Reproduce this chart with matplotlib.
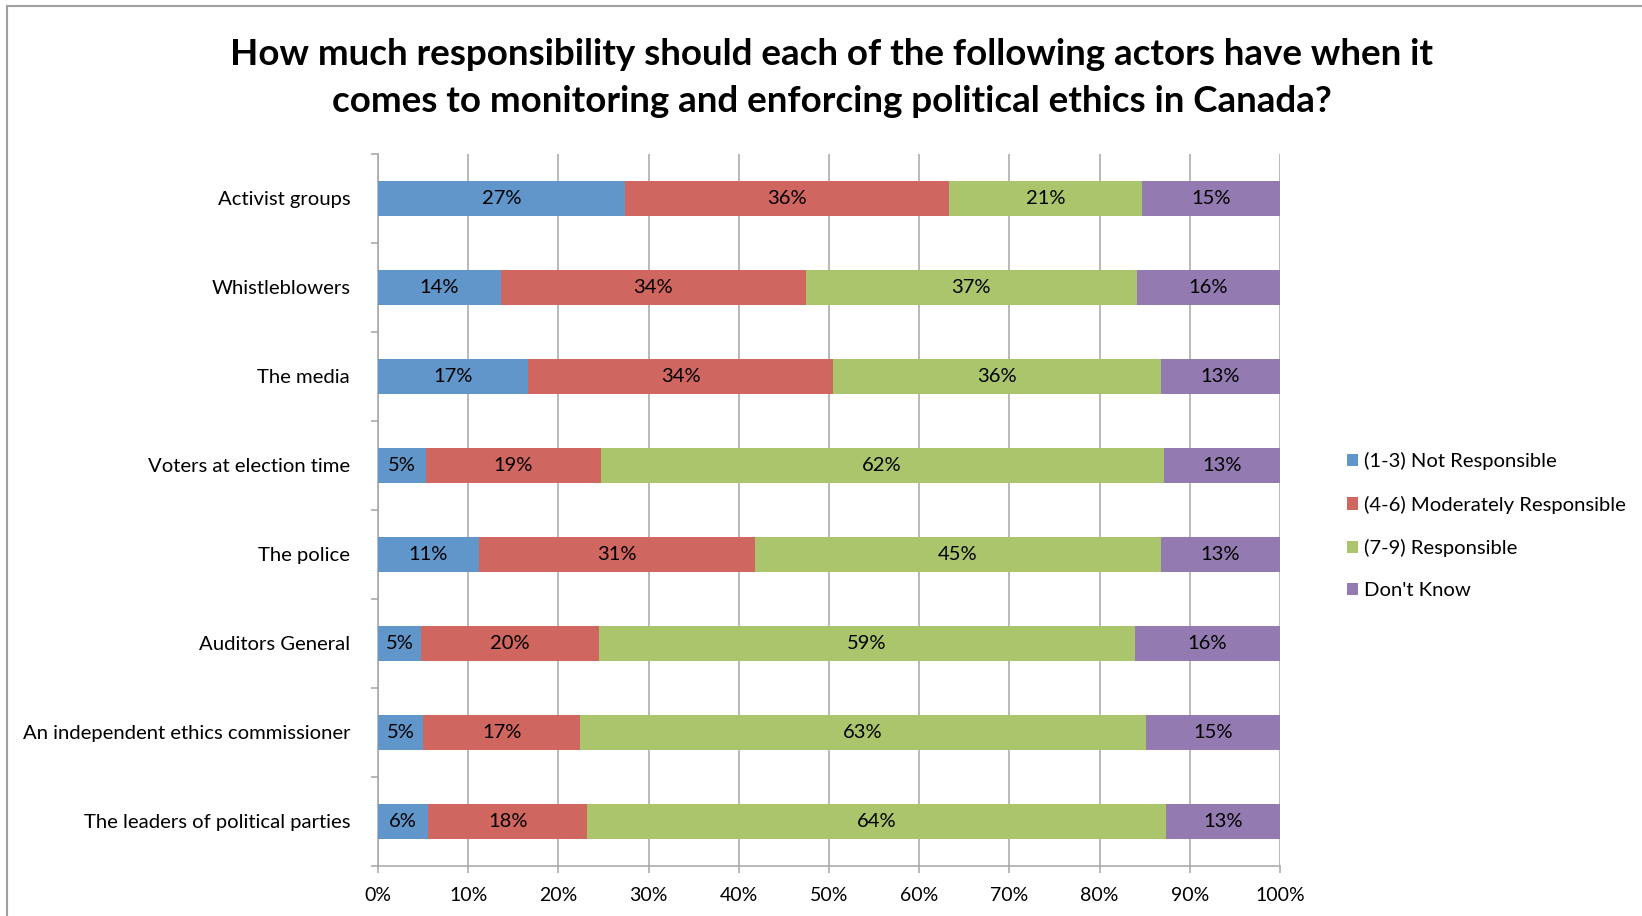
import matplotlib
matplotlib.use("Agg")
import matplotlib.pyplot as plt
from matplotlib.patches import Rectangle
import numpy as np

plt.rcParams['font.family'] = ['Lato', 'DejaVu Sans']

# survey data, rows top to bottom
actors = ['Activist groups', 'Whistleblowers', 'The media', 'Voters at election time',
          'The police', 'Auditors General', 'An independent ethics commissioner',
          'The leaders of political parties']
not_resp = [27.4, 13.6, 16.6, 5.3, 11.2, 4.8, 5.0, 5.6]
moderate = [35.9, 33.8, 33.9, 19.4, 30.6, 19.7, 17.4, 17.6]
resp = [21.4, 36.7, 36.3, 62.4, 45.0, 59.4, 62.7, 64.2]
dont_know = [15.3, 15.9, 13.2, 12.9, 13.2, 16.1, 14.9, 12.6]

series = ['(1-3) Not Responsible', '(4-6) Moderately Responsible',
          '(7-9) Responsible', "Don't Know"]
colors = ['#6196CA', '#CF6660', '#ABC56C', '#937BB1']
values = [not_resp, moderate, resp, dont_know]

fig = plt.figure(figsize=(16.42, 9.16), dpi=100)
ax = fig.add_axes([0.2302, 0.0546, 0.5493, 0.7773])

y = np.arange(len(actors))
left = np.zeros(len(actors))
for name, col, vals in zip(series, colors, values):
    vals = np.array(vals)
    bars = ax.barh(y, vals, left=left, height=0.40, color=col, label=name, zorder=3)
    ax.bar_label(bars, labels=[f'{v:.0f}%' for v in vals], label_type='center',
                 fontsize=14.5, color='black')
    left += vals

ax.set_xlim(0, 100)
ax.set_ylim(len(actors) - 0.5, -0.5)
ax.set_xticks(np.arange(0, 101, 10))
ax.set_xticklabels([f'{t}%' for t in range(0, 101, 10)], fontsize=14)
ax.set_yticks(y)
ax.set_yticklabels(actors, fontsize=14.6)
ax.set_yticks(np.arange(-0.5, len(actors), 1), minor=True)
ax.tick_params(axis='y', which='major', length=0, pad=20)
ax.tick_params(axis='y', which='minor', length=5, color='#A6A6A6', width=1.1)
ax.tick_params(axis='x', length=5, color='#A6A6A6', width=1.1, pad=10)

ax.grid(axis='x', color='#A6A6A6', linewidth=1.1, zorder=0)
for s in ['top', 'right']:
    ax.spines[s].set_visible(False)
for s in ['left', 'bottom']:
    ax.spines[s].set_color('#A6A6A6')
    ax.spines[s].set_linewidth(1.1)

fig.text(0.5066, 0.915, 'How much responsibility should each of the following actors have when it\n'
         'comes to monitoring and enforcing political ethics in Canada?',
         ha='center', va='center', fontsize=26.5, fontweight='bold', linespacing=1.5)

fig.legend(loc='center left', bbox_to_anchor=(0.809, 0.426), frameon=False, fontsize=14.6,
           handlelength=0.55, handleheight=0.55, handletextpad=0.3, labelspacing=1.25)

# chart border
fig.add_artist(Rectangle((0.0043, -0.1), 1.2, 1.0935, transform=fig.transFigure,
                         fill=False, edgecolor='#A0A0A0', linewidth=1.5))

fig.savefig('out.png', dpi=100)
